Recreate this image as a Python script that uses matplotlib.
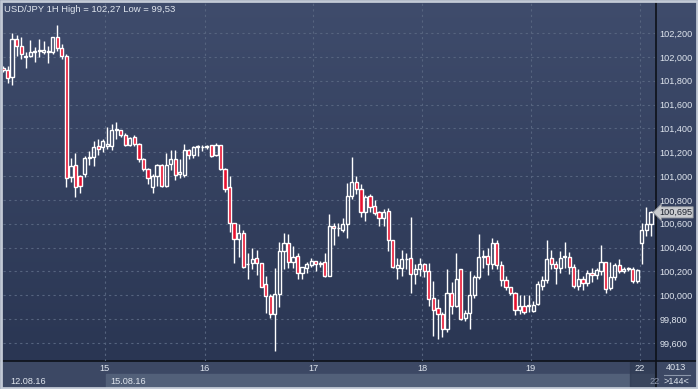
import numpy as np
import matplotlib
matplotlib.use("Agg")
import matplotlib.pyplot as plt
from matplotlib.colors import LinearSegmentedColormap
from matplotlib.transforms import blended_transform_factory

plt.rcParams['font.family'] = ['Liberation Sans', 'DejaVu Sans']

# hourly candles, USD/JPY 12.08.16 - 22.08.16
opens = [101.905, 101.89, 101.83, 102.15, 102.09, 102.01, 102.01, 102.04, 102.05, 102.04,
         102.04, 102.04, 102.17, 102.07, 102.01, 100.99, 101.09, 101.00, 101.02, 101.15,
         101.16, 101.25, 101.24, 101.25, 101.25, 101.39, 101.39, 101.34, 101.26, 101.33,
         101.27, 101.14, 101.06, 100.91, 101.00, 101.09, 100.92, 101.10, 101.14, 101.02,
         101.01, 101.22, 101.18, 101.25, 101.24, 101.24, 101.26, 101.18, 101.26, 101.06,
         100.91, 100.61, 100.47, 100.52, 100.26, 100.27, 100.31, 100.27, 100.09, 99.99,
         99.84, 100.01, 100.37, 100.44, 100.28, 100.33, 100.19, 100.23, 100.25, 100.29,
         100.26, 100.28, 100.16, 100.58, 100.56, 100.55, 100.60, 100.83, 100.95, 100.89,
         100.70, 100.83, 100.75, 100.70, 100.65, 100.71, 100.46, 100.23, 100.23, 100.30,
         100.31, 100.18, 100.22, 100.26, 100.20, 99.98, 99.89, 99.84, 99.72, 100.02,
         99.91, 100.22, 99.81, 99.85, 100.00, 100.15, 100.32, 100.33, 100.26, 100.44,
         100.25, 100.13, 100.07, 100.02, 99.88, 99.91, 99.91, 99.87, 99.93, 100.08,
         100.13, 100.31, 100.26, 100.23, 100.32, 100.32, 100.24, 100.08, 100.14, 100.10,
         100.19, 100.17, 100.20, 100.28, 100.06, 100.15, 100.25, 100.20, 100.22, 100.22,
         100.12, 100.44, 100.55, 100.60]
highs = [101.92, 101.92, 102.20, 102.18, 102.17, 102.04, 102.14, 102.08, 102.15, 102.13,
         102.09, 102.17, 102.27, 102.11, 102.02, 101.15, 101.19, 101.01, 101.17, 101.21,
         101.29, 101.31, 101.31, 101.41, 101.44, 101.45, 101.39, 101.36, 101.33, 101.34,
         101.28, 101.15, 101.07, 101.02, 101.10, 101.10, 101.19, 101.22, 101.22, 101.14,
         101.27, 101.23, 101.25, 101.26, 101.26, 101.26, 101.26, 101.28, 101.26, 101.07,
         101.00, 100.61, 100.60, 100.55, 100.35, 100.40, 100.38, 100.27, 100.16, 100.01,
         100.23, 100.45, 100.52, 100.51, 100.41, 100.35, 100.24, 100.28, 100.31, 100.29,
         100.29, 100.35, 100.68, 100.61, 100.61, 100.65, 100.94, 101.16, 101.00, 100.93,
         100.84, 100.85, 100.80, 100.71, 100.72, 100.73, 100.46, 100.31, 100.38, 100.35,
         100.66, 100.26, 100.31, 100.27, 100.27, 100.12, 99.97, 99.86, 100.22, 100.11,
         100.35, 100.22, 99.88, 100.20, 100.17, 100.51, 100.38, 100.40, 100.48, 100.46,
         100.29, 100.16, 100.07, 100.03, 100.00, 100.00, 100.00, 99.95, 100.12, 100.16,
         100.46, 100.38, 100.29, 100.37, 100.45, 100.36, 100.26, 100.22, 100.16, 100.21,
         100.23, 100.23, 100.42, 100.28, 100.28, 100.27, 100.30, 100.24, 100.24, 100.24,
         100.22, 100.61, 100.74, 100.71]
lows = [101.87, 101.78, 101.76, 102.01, 101.98, 101.91, 102.00, 101.96, 102.00, 102.02,
        101.95, 102.02, 102.05, 101.98, 100.91, 100.95, 100.82, 100.86, 100.99, 101.09,
        101.08, 101.18, 101.20, 101.23, 101.22, 101.31, 101.33, 101.25, 101.25, 101.25,
        101.12, 101.04, 100.93, 100.86, 100.92, 100.91, 100.91, 101.05, 100.97, 100.98,
        100.99, 101.14, 101.15, 101.17, 101.21, 101.23, 101.16, 101.17, 101.05, 100.87,
        100.53, 100.27, 100.32, 100.23, 100.14, 100.22, 100.17, 100.07, 99.85, 99.81,
        99.53, 99.90, 100.22, 100.23, 100.23, 100.14, 100.14, 100.19, 100.24, 100.20,
        100.24, 100.15, 100.16, 100.42, 100.50, 100.53, 100.48, 100.81, 100.85, 100.66,
        100.62, 100.70, 100.67, 100.58, 100.58, 100.37, 100.23, 100.14, 100.16, 100.22,
        100.02, 100.09, 100.16, 100.15, 99.91, 99.66, 99.63, 99.65, 99.69, 99.84,
        99.90, 99.79, 99.78, 99.72, 99.98, 100.14, 100.23, 100.17, 100.22, 100.22,
        100.08, 100.04, 100.00, 99.83, 99.84, 99.84, 99.86, 99.86, 99.92, 100.04,
        100.10, 100.22, 100.09, 100.19, 100.23, 100.18, 100.06, 100.04, 100.04, 100.08,
        100.11, 100.14, 100.17, 100.02, 100.04, 100.13, 100.19, 100.19, 100.20, 100.10,
        100.10, 100.26, 100.50, 100.50]
closes = [101.89, 101.82, 102.15, 102.09, 102.02, 102.00, 102.04, 102.05, 102.055, 102.06,
          102.045, 102.17, 102.07, 102.01, 100.98, 101.08, 100.91, 100.92, 101.15, 101.16,
          101.24, 101.23, 101.29, 101.265, 101.39, 101.395, 101.34, 101.26, 101.32, 101.27,
          101.14, 101.06, 100.98, 101.00, 101.09, 100.92, 101.09, 101.14, 101.01, 101.03,
          101.22, 101.18, 101.24, 101.24, 101.245, 101.25, 101.17, 101.26, 101.06, 100.89,
          100.61, 100.47, 100.52, 100.24, 100.265, 100.30, 100.27, 100.07, 99.99, 99.84,
          100.01, 100.37, 100.44, 100.28, 100.32, 100.19, 100.24, 100.26, 100.29, 100.26,
          100.27, 100.16, 100.58, 100.56, 100.565, 100.60, 100.83, 100.95, 100.89, 100.70,
          100.82, 100.74, 100.69, 100.65, 100.70, 100.46, 100.24, 100.25, 100.30, 100.305,
          100.18, 100.22, 100.26, 100.20, 99.97, 99.88, 99.84, 99.72, 100.02, 99.91,
          100.14, 99.80, 99.85, 100.00, 100.15, 100.32, 100.33, 100.26, 100.44, 100.25,
          100.13, 100.07, 100.02, 99.88, 99.91, 99.86, 99.915, 99.92, 100.09, 100.13,
          100.30, 100.26, 100.23, 100.31, 100.325, 100.24, 100.08, 100.14, 100.10, 100.19,
          100.17, 100.21, 100.28, 100.05, 100.15, 100.25, 100.20, 100.22, 100.225, 100.12,
          100.21, 100.55, 100.60, 100.695]

price_ticks = [99.6, 99.8, 100.0, 100.2, 100.4, 100.6, 100.8, 101.0, 101.2, 101.4,
               101.6, 101.8, 102.0, 102.2]
day_labels = ["15", "16", "17", "18", "19", "22"]
day_starts = [22.5, 44.5, 68.5, 92.5, 116.5, 140.5]

O = np.array(opens)
H = np.array(highs)
L = np.array(lows)
C = np.array(closes)
idx = np.arange(len(O))
up = C >= O
lo = np.minimum(O, C)
hi = np.maximum(O, C)

W, Hpx = 698, 389
fig = plt.figure(figsize=(W / 100, Hpx / 100), dpi=100)

# background in pixel coords
bg = fig.add_axes([0, 0, 1, 1])
bg.set_xlim(0, W)
bg.set_ylim(Hpx, 0)
bg.axis("off")
cmap = LinearSegmentedColormap.from_list("bgc", ["#3f4c6c", "#2a3653"])
grad = np.linspace(0, 1, 256).reshape(-1, 1)
bg.imshow(grad, extent=[0, W, 361, 0], aspect="auto", cmap=cmap, zorder=0)
# bottom panel
bg.add_patch(plt.Rectangle((0, 361), W, 28, color="#3c4864", zorder=1))
bg.add_patch(plt.Rectangle((106, 374), 549, 13, color="#526079", zorder=2))
bg.add_patch(plt.Rectangle((630, 362), 25, 25, color="#2f3a52", alpha=0.7, zorder=3))
bg.plot([0, W], [361, 361], color="#0d1119", lw=1.2, zorder=4)
bg.plot([655.5, 655.5], [0, 389], color="#0d1119", lw=1.2, zorder=4)
bg.plot([664, 690], [374.5, 374.5], color="#8c97ab", lw=0.8, zorder=4)
bg.add_patch(plt.Rectangle((0.5, 0.5), W - 1.5, Hpx - 1.5, fill=False,
                           ec="#c3cad6", lw=2, zorder=5))

tc = "#dfe5ee"
fig.text(4 / W, 1 - 10 / Hpx, "USD/JPY 1H High = 102,27 Low = 99,53",
         color=tc, fontsize=6.8, va="center", ha="left")
fig.text(10 / W, 1 - 381 / Hpx, "12.08.16", color=tc, fontsize=6.6, va="center")
fig.text(110 / W, 1 - 381 / Hpx, "15.08.16", color=tc, fontsize=6.6, va="center")
fig.text(649 / W, 1 - 381 / Hpx, "22", color="#8f99ad", fontsize=6.6, va="center")
fig.text(676 / W, 1 - 368 / Hpx, "4013", color=tc, fontsize=6.6, va="center", ha="center")
fig.text(676 / W, 1 - 381 / Hpx, ">144<", color=tc, fontsize=6.6, va="center", ha="center")

# main chart
ax = fig.add_axes([3 / W, 28 / Hpx, 652 / W, 359 / Hpx])
ax.set_facecolor("none")
ax.set_xlim(0, 143.9)
ax.set_ylim(99.448, 102.46)
for s in ax.spines.values():
    s.set_visible(False)

gc = "#56647f"
for v in price_ticks:
    ax.axhline(v, color=gc, lw=0.8, ls=(0, (2, 3)), zorder=1)
for d in day_starts:
    ax.axvline(d, color=gc, lw=0.8, ls=(0, (2, 3)), zorder=1)

ax.vlines(idx, L, lo, color="white", lw=1, zorder=2)
ax.vlines(idx, hi, H, color="white", lw=1, zorder=2)
heights = np.maximum(hi - lo, 0.004)
ax.bar(idx, heights, bottom=lo, width=0.7,
       color=np.where(up, "none", "#e8112f"), edgecolor="white",
       linewidth=1.0, zorder=3)

ax.set_xticks([])
ax.set_yticks(price_ticks)
ax.set_yticklabels([f"{v:.3f}".replace(".", ",") for v in price_ticks])
ax.tick_params(axis="y", length=0, labelleft=False, labelright=True,
               labelcolor=tc, labelsize=6.6, pad=3)

trans = blended_transform_factory(ax.transData, ax.transAxes)
for d, lab in zip(day_starts, day_labels):
    ax.text(d, -0.022, lab, transform=trans, color=tc, fontsize=6.6,
            ha="center", va="center")

last = closes[-1]
ax.text(1.006, last, f"{last:.3f}".replace(".", ","),
        transform=blended_transform_factory(ax.transAxes, ax.transData),
        color="#1e2430", fontsize=6.6, va="center", ha="left",
        bbox=dict(boxstyle="larrow,pad=0.12", fc="#c9cbcf", ec="#8e939c", lw=0.6))

fig.savefig("out.png", dpi=100)
